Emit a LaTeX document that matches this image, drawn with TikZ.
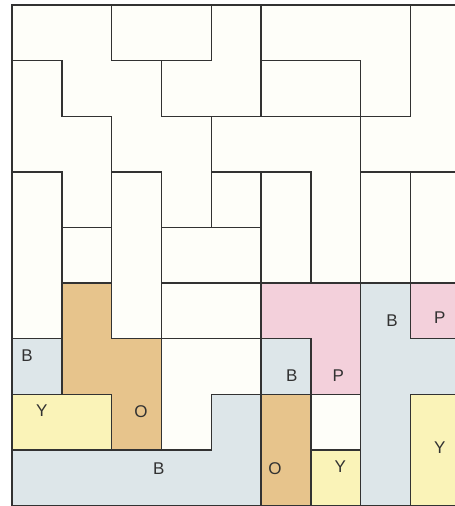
\documentclass[tikz,border=0pt]{standalone}
\usepackage{fontspec}
\setsansfont{Liberation Sans}
\usepackage{tikz}
\definecolor{pzLine}{RGB}{50,50,50}
\definecolor{pzPaper}{RGB}{254,254,249}
\definecolor{pzBlue}{RGB}{221,230,233}
\definecolor{pzPink}{RGB}{243,208,219}
\definecolor{pzOrange}{RGB}{231,196,140}
\definecolor{pzYellow}{RGB}{250,243,184}
\tikzset{
    piece/.style={draw=pzLine, line width=1.4pt, line join=miter, fill=pzPaper},
    bpiece/.style={piece, fill=pzBlue},
    ppiece/.style={piece, fill=pzPink},
    opiece/.style={piece, fill=pzOrange},
    ypiece/.style={piece, fill=pzYellow},
    tag/.style={font=\sffamily\fontsize{17}{17}\selectfont, text=pzLine, inner sep=0pt}
}

\begin{document}
\begin{tikzpicture}[x=49.8pt, y=-55.6pt]
  % frame of the page
  \path[use as bounding box, fill=white] (-12pt,5pt) rectangle (443pt,-501pt);
  \clip (-12pt,5pt) rectangle (443pt,-501pt);

  % top rows, plain pieces
  \draw[piece] (0,0) -- (2,0) -- (2,1) -- (3,1) -- (3,2) -- (4,2) -- (4,4) -- (3,4)
               -- (3,3) -- (2,3) -- (2,2) -- (1,2) -- (1,1) -- (0,1) -- cycle;
  \draw[piece] (2,0) rectangle (4,1);
  \draw[piece] (4,0) -- (5,0) -- (5,2) -- (3,2) -- (3,1) -- (4,1) -- cycle;
  \draw[piece] (5,0) -- (8,0) -- (8,2) -- (7,2) -- (7,1) -- (5,1) -- cycle;
  \draw[piece] (5,1) rectangle (7,2);
  \draw[piece] (8,0) -- (9,0) -- (9,3) -- (7,3) -- (7,2) -- (8,2) -- cycle;
  \draw[piece] (0,1) -- (1,1) -- (1,2) -- (2,2) -- (2,4) -- (1,4) -- (1,3) -- (0,3) -- cycle;
  \draw[piece] (4,2) -- (7,2) -- (7,5) -- (6,5) -- (6,3) -- (4,3) -- cycle;
  \draw[piece] (7,3) rectangle (8,5);
  \draw[piece] (8,3) rectangle (9,5);
  \draw[piece] (5,3) rectangle (6,5);
  \draw[piece] (4,3) rectangle (5,4);
  \draw[piece] (3,4) rectangle (5,5);
  \draw[piece] (3,5) rectangle (5,6);
  \draw[piece] (2,3) rectangle (3,6);
  \draw[piece] (1,4) rectangle (2,5);
  \draw[piece] (0,3) rectangle (1,6);
  \draw[piece] (3,6) -- (5,6) -- (5,7) -- (4,7) -- (4,8) -- (3,8) -- cycle;
  \draw[piece] (6,7) rectangle (7,8);

  % coloured pieces
  \draw[opiece] (1,5) -- (2,5) -- (2,6) -- (3,6) -- (3,8) -- (2,8) -- (2,7) -- (1,7) -- cycle;
  \draw[bpiece] (0,6) rectangle (1,7);
  \draw[ypiece] (0,7) rectangle (2,8);
  \draw[bpiece] (0,8) -- (4,8) -- (4,7) -- (5,7) -- (5,9) -- (0,9) -- cycle;
  \draw[ppiece] (5,5) -- (7,5) -- (7,7) -- (6,7) -- (6,6) -- (5,6) -- cycle;
  \draw[bpiece] (5,6) rectangle (6,7);
  \draw[opiece] (5,7) rectangle (6,9);
  \draw[ypiece] (6,8) rectangle (7,9);
  \draw[bpiece] (7,5) -- (8,5) -- (8,6) -- (9,6) -- (9,7) -- (8,7) -- (8,9) -- (7,9) -- cycle;
  \draw[ppiece] (8,5) rectangle (9,6);
  \draw[ypiece] (8,7) rectangle (9,9);

  % letters
  \node[tag] (bLeft) at (0.30,6.31) {B};
  \node[tag] (yLeft) at (0.60,7.30) {Y};
  \node[tag] (oLeft) at (2.59,7.32) {O};
  \node[tag] (bBottom) at (2.95,8.33) {B};
  \node[tag] (bMid) at (5.62,6.67) {B};
  \node[tag] (pMid) at (6.55,6.67) {P};
  \node[tag] (bRight) at (7.63,5.67) {B};
  \node[tag] (pRight) at (8.59,5.63) {P};
  \node[tag] (oMid) at (5.28,8.33) {O};
  \node[tag] (yMid) at (6.59,8.31) {Y};
  \node[tag] (yRight) at (8.59,7.97) {Y};
\end{tikzpicture}
\end{document}
